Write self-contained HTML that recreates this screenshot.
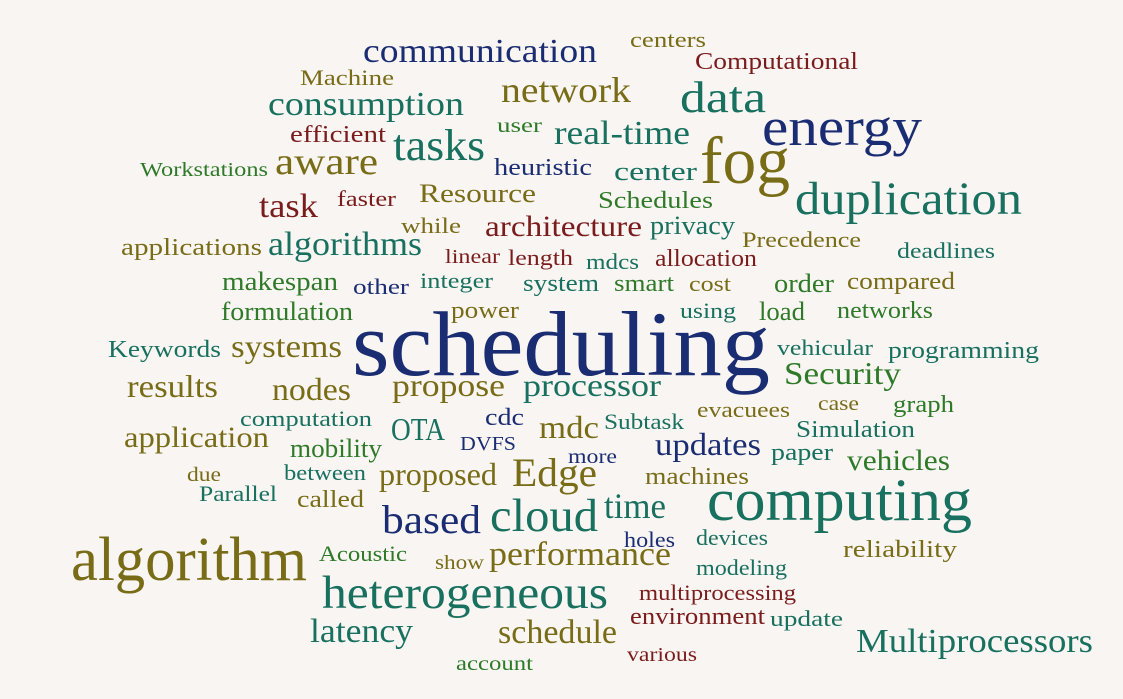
<!DOCTYPE html>
<html><head><meta charset="utf-8">
<style>
html,body{margin:0;padding:0;background:#f9f5f3;}
svg{display:block;}
text{font-family:"Liberation Serif","DejaVu Serif",serif;}
</style></head>
<body>
<svg id="cloud" width="1123" height="699" viewBox="0 0 1123 699">
<rect width="1123" height="699" fill="#f9f5f3"/>
</svg>
<script>
// word, left x, baseline y, font size, right x, color key
const words = [
["communication",363,62,30,597,"b"],["centers",630,47,20,706,"o"],["Computational",695,69,22,858,"r"],
["Machine",300,85,20,394,"o"],["network",501,102,32,631,"o"],["data",680,112,40,766,"t"],
["consumption",268,115,30,464,"t"],["energy",762,145,48,922,"b"],["efficient",290,142,22,386,"r"],
["user",497,132,18,542,"g"],["real-time",554,144,30,690,"t"],["tasks",393,160,40,485,"t"],
["fog",700,183,60,790,"o"],["heuristic",494,175,22,592,"b"],["Workstations",140,176,18,268,"g"],
["aware",275,174,34,378,"o"],["center",614,180,24,697,"t"],["duplication",795,214,42,1022,"t"],
["Resource",419,202,24,536,"o"],["faster",337,206,20,396,"r"],["Schedules",598,208,22,713,"g"],
["task",259,217,30,318,"r"],["while",401,233,20,461,"o"],["architecture",485,236,26,642,"r"],
["privacy",650,234,24,735,"t"],["Precedence",742,247,20,861,"o"],["applications",121,255,22,262,"o"],
["algorithms",268,255,30,422,"t"],["linear",445,263,18,500,"r"],["length",508,265,20,573,"r"],
["mdcs",586,269,20,639,"t"],["allocation",655,266,22,757,"r"],["deadlines",897,258,20,995,"t"],
["makespan",222,290,24,338,"g"],["other",353,294,20,409,"b"],["integer",420,288,20,493,"t"],
["system",523,291,22,599,"t"],["smart",614,291,22,674,"g"],["cost",689,291,20,731,"o"],
["order",774,292,24,834,"g"],["compared",847,289,22,955,"o"],["formulation",221,320,24,353,"g"],
["power",451,318,22,519,"o"],["using",680,318,20,736,"t"],["load",759,320,24,805,"g"],
["networks",837,318,22,933,"g"],["Keywords",108,357,22,221,"t"],["systems",231,357,28,342,"o"],
["scheduling",352,375,82,770,"b"],["vehicular",777,355,20,873,"t"],["programming",888,358,22,1039,"t"],
["Security",784,384,28,901,"g"],["results",127,397,28,218,"o"],["nodes",272,400,28,351,"o"],
["propose",392,396,28,505,"o"],["processor",523,396,28,661,"t"],["computation",240,426,20,372,"t"],
["cdc",485,425,22,524,"b"],["evacuees",697,417,20,790,"o"],["case",818,410,18,859,"o"],
["graph",893,412,22,954,"g"],["Subtask",604,429,20,684,"t"],["mdc",539,438,28,599,"o"],
["OTA",391,440,28,445,"t"],["Simulation",796,437,22,915,"t"],["application",124,447,26,269,"o"],
["updates",655,455,28,761,"b"],["mobility",290,457,24,382,"g"],["DVFS",460,450,18,516,"b"],
["paper",771,460,22,833,"t"],["vehicles",847,470,26,950,"g"],["more",568,463,18,617,"b"],
["due",187,481,18,221,"o"],["between",284,480,20,366,"t"],["proposed",379,485,28,497,"o"],
["Edge",512,486,36,597,"o"],["machines",645,484,22,749,"o"],["Parallel",199,501,20,277,"t"],
["called",297,507,22,364,"o"],["computing",707,520,54,972,"t"],["based",382,533,36,481,"b"],
["cloud",490,531,42,598,"t"],["time",604,518,32,666,"t"],["holes",624,547,20,675,"b"],
["devices",696,545,20,768,"t"],["algorithm",71,580,56,307,"o"],["Acoustic",319,561,20,407,"g"],
["show",435,569,18,484,"o"],["performance",489,565,30,671,"o"],["reliability",843,557,22,957,"o"],
["modeling",696,575,20,787,"t"],["heterogeneous",322,608,42,608,"t"],["multiprocessing",639,600,20,796,"r"],
["environment",630,624,22,765,"r"],["update",770,626,20,843,"t"],["schedule",498,643,30,617,"o"],
["latency",310,642,30,413,"t"],["Multiprocessors",856,652,30,1093,"t"],["various",627,661,18,697,"r"],
["account",456,670,18,533,"g"]
];
const palette = {b:"#1b2d72",o:"#786c17",t:"#18705e",g:"#2e7a28",r:"#7a1c1c"};
const svg = document.getElementById('cloud');
const NS = "http://www.w3.org/2000/svg";
for (const w of words) {
  const t = document.createElementNS(NS,'text');
  t.setAttribute('x', w[1]);
  t.setAttribute('y', w[2]);
  t.setAttribute('font-size', (w[3]*1.12).toFixed(1));
  t.setAttribute('textLength', w[4]-w[1]);
  t.setAttribute('lengthAdjust', 'spacingAndGlyphs');
  t.setAttribute('fill', palette[w[5]]);
  t.textContent = w[0];
  
  
  svg.appendChild(t);
}
</script>
</body></html>
